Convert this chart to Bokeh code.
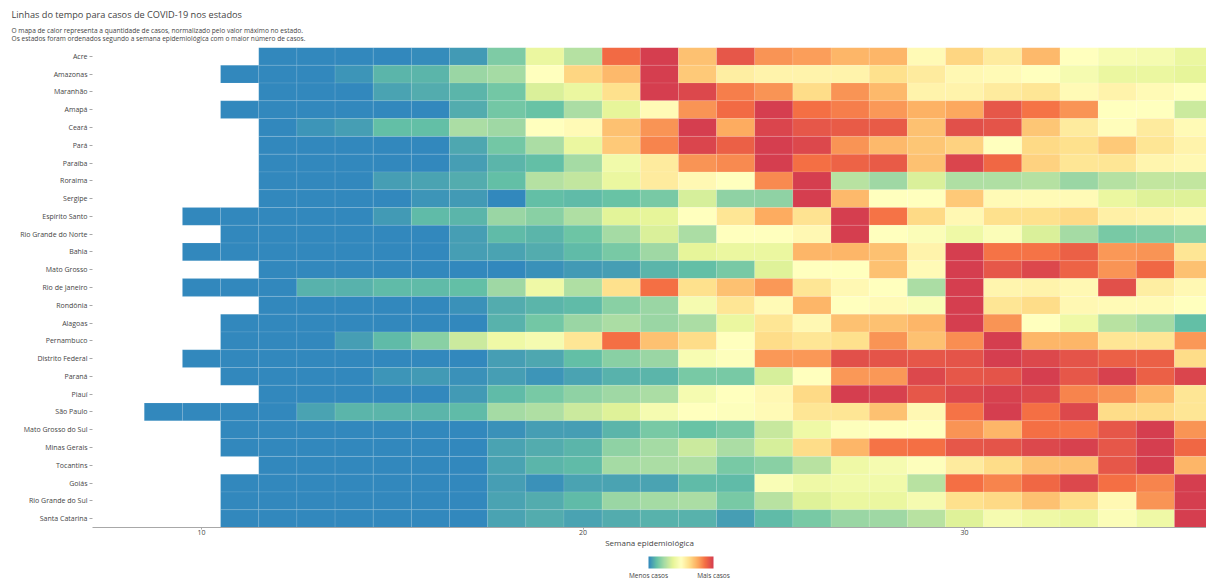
import numpy as np
import pandas as pd
from bokeh.plotting import figure
from bokeh.models import (ColumnDataSource, LinearColorMapper, ColorBar, FixedTicker,
                          Range1d, FactorRange, Title)
from bokeh.palettes import Spectral9
from bokeh.embed import file_html
from bokeh.resources import INLINE

# ---- texts ----
title_text = "Linhas do tempo para casos de COVID-19 nos estados"
subtitle_1 = "O mapa de calor representa a quantidade de casos, normalizado pelo valor máximo no estado."
subtitle_2 = "Os estados foram ordenados segundo a semana epidemiológica com o maior número de casos."
x_label = "Semana epidemiológica"
legend_low = "Menos casos"
legend_high = "Mais casos"
x_ticks = [10, 20, 30]

# ---- data: weekly cases normalized by each state's maximum ----
states = [
    "Acre", "Amazonas", "Maranhão", "Amapá", "Ceará", "Pará", "Paraíba", "Roraima",
    "Sergipe", "Espírito Santo", "Rio Grande do Norte", "Bahia", "Mato Grosso",
    "Rio de Janeiro", "Rondônia", "Alagoas", "Pernambuco", "Distrito Federal",
    "Paraná", "Piauí", "São Paulo", "Mato Grosso do Sul", "Minas Gerais",
    "Tocantins", "Goiás", "Rio Grande do Sul", "Santa Catarina",
]
first_week = [12, 11, 12, 11, 12, 12, 12, 12, 12, 10, 11, 10, 12, 10, 12, 11, 11, 10,
              11, 12, 9, 11, 11, 12, 11, 11, 11]

acre = [0, 0, 0, 0, 0.01, 0.04, 0.17, 0.40, 0.27, 0.88, 1.0, 0.70, 0.93, 0.80, 0.78,
        0.73, 0.73, 0.52, 0.65, 0.58, 0.72, 0.50, 0.46, 0.45, 0.40]
amazonas = [0, 0, 0, 0.03, 0.10, 0.10, 0.22, 0.24, 0.50, 0.65, 0.72, 1.0, 0.68, 0.57,
            0.55, 0.55, 0.55, 0.62, 0.58, 0.53, 0.52, 0.50, 0.45, 0.40, 0.40, 0.38]
maranhao = [0, 0, 0, 0.06, 0.08, 0.10, 0.15, 0.35, 0.40, 0.62, 1.0, 0.97, 0.84, 0.80,
            0.63, 0.80, 0.72, 0.55, 0.55, 0.58, 0.60, 0.52, 0.55, 0.52, 0.50]
amapa = [0, 0, 0, 0, 0, 0, 0.08, 0.15, 0.13, 0.25, 0.38, 0.52, 0.80, 0.88, 1.0, 0.87,
         0.84, 0.79, 0.74, 0.76, 0.93, 0.86, 0.80, 0.50, 0.50, 0.32]
ceara = [0, 0.03, 0.05, 0.12, 0.12, 0.25, 0.23, 0.50, 0.52, 0.70, 0.80, 1.0, 0.75,
         0.98, 0.93, 0.92, 0.92, 0.70, 0.95, 0.94, 0.69, 0.58, 0.51, 0.58, 0.52]
para = [0, 0, 0, 0, 0, 0.07, 0.15, 0.25, 0.40, 0.68, 0.83, 0.98, 0.91, 1.0, 0.97,
        0.80, 0.72, 0.69, 0.66, 0.50, 0.64, 0.62, 0.68, 0.60, 0.55]
paraiba = [0, 0, 0, 0, 0, 0.05, 0.10, 0.12, 0.24, 0.43, 0.58, 0.80, 0.82, 1.0, 0.87,
           0.90, 0.92, 0.70, 0.98, 0.89, 0.66, 0.60, 0.60, 0.54, 0.53]
roraima = [0, 0, 0, 0.05, 0.06, 0.08, 0.12, 0.27, 0.30, 0.40, 0.58, 0.53, 0.50, 0.82,
           1.0, 0.28, 0.23, 0.35, 0.26, 0.26, 0.27, 0.22, 0.27, 0.30, 0.30]
sergipe = [0, 0, 0, 0, 0.03, 0.04, 0, 0.12, 0.11, 0.13, 0.16, 0.34, 0.20, 0.20, 1.0,
           0.72, 0.50, 0.50, 0.68, 0.52, 0.52, 0.52, 0.40, 0.36, 0.36]
espirito_santo = [0, 0, 0, 0, 0, 0.04, 0.11, 0.10, 0.22, 0.19, 0.26, 0.37, 0.38, 0.50,
                  0.60, 0.75, 0.61, 1.0, 0.86, 0.64, 0.53, 0.62, 0.62, 0.64, 0.56,
                  0.55, 0.53]
rio_grande_do_norte = [0, 0, 0, 0, 0, 0, 0.05, 0.11, 0.10, 0.14, 0.24, 0.35, 0.25,
                       0.50, 0.50, 0.53, 1.0, 0.50, 0.48, 0.42, 0.48, 0.35, 0.24,
                       0.16, 0.17, 0.19]
bahia = [0, 0, 0, 0, 0, 0, 0, 0.05, 0.06, 0.08, 0.11, 0.16, 0.23, 0.38, 0.40, 0.40,
         0.73, 0.73, 0.70, 0.55, 1.0, 0.86, 0.86, 0.91, 0.79, 0.80, 0.60]
mato_grosso = [0, 0, 0, 0, 0, 0, 0, 0.02, 0.04, 0.05, 0.10, 0.12, 0.16, 0.36, 0.50,
               0.50, 0.70, 0.52, 1.0, 0.93, 0.97, 0.90, 0.80, 0.89, 0.70]
rio_de_janeiro = [0, 0, 0, 0.09, 0.09, 0.11, 0.11, 0.12, 0.23, 0.42, 0.26, 0.62, 0.87,
                  0.62, 0.70, 0.79, 0.60, 0.53, 0.50, 0.25, 1.0, 0.54, 0.55, 0.53,
                  0.95, 0.57, 0.53]
rondonia = [0, 0, 0, 0, 0, 0.02, 0.08, 0.10, 0.11, 0.19, 0.22, 0.45, 0.60, 0.52, 0.73,
            0.50, 0.52, 0.47, 1.0, 0.60, 0.63, 0.53, 0.52, 0.52, 0.50]
alagoas = [0, 0, 0, 0, 0, 0, 0, 0.09, 0.15, 0.22, 0.25, 0.22, 0.25, 0.40, 0.60, 0.53,
           0.70, 0.70, 0.73, 1.0, 0.80, 0.50, 0.42, 0.28, 0.24, 0.12]
pernambuco = [0, 0, 0, 0.05, 0.11, 0.19, 0.32, 0.42, 0.45, 0.60, 0.87, 0.70, 0.63,
              0.50, 0.63, 0.60, 0.62, 0.80, 0.70, 0.81, 1.0, 0.73, 0.73, 0.60, 0.60,
              0.79]
distrito_federal = [0, 0, 0, 0, 0, 0, 0, 0, 0.05, 0.07, 0.12, 0.19, 0.22, 0.46, 0.49,
                    0.79, 0.79, 0.95, 0.94, 0.93, 0.94, 1.0, 0.97, 0.94, 0.91, 0.91,
                    0.63]
parana = [0, 0, 0, 0, 0.03, 0.04, 0.02, 0.05, 0.03, 0.06, 0.09, 0.10, 0.16, 0.16, 0.34,
          0.50, 0.79, 0.79, 0.97, 0.93, 0.94, 1.0, 0.93, 0.99, 0.91, 0.98]
piaui = [0, 0, 0, 0, 0, 0.04, 0.11, 0.16, 0.20, 0.23, 0.25, 0.45, 0.50, 0.53, 0.64,
         1.0, 0.99, 0.93, 0.97, 0.99, 0.97, 0.83, 0.80, 0.73, 0.60]
sao_paulo = [0, 0, 0, 0, 0.06, 0.10, 0.10, 0.10, 0.11, 0.24, 0.26, 0.32, 0.36, 0.45,
             0.50, 0.49, 0.52, 0.60, 0.60, 0.70, 0.53, 0.86, 1.0, 0.87, 0.97, 0.63,
             0.63, 0.60]
mato_grosso_do_sul = [0, 0, 0, 0, 0, 0, 0, 0.02, 0.05, 0.05, 0.10, 0.16, 0.13, 0.16,
                      0.31, 0.42, 0.49, 0.50, 0.50, 0.80, 0.73, 0.87, 0.86, 0.93, 1.0,
                      0.80]
minas_gerais = [0, 0, 0, 0, 0, 0, 0, 0.06, 0.08, 0.10, 0.20, 0.24, 0.32, 0.25, 0.34,
                0.63, 0.73, 0.86, 0.87, 0.93, 0.94, 0.97, 0.99, 0.93, 1.0, 0.89]
tocantins = [0, 0, 0, 0, 0, 0, 0.06, 0.10, 0.11, 0.24, 0.25, 0.26, 0.16, 0.19, 0.28,
             0.42, 0.45, 0.49, 0.58, 0.63, 0.70, 0.70, 0.93, 1.0, 0.73]
goias = [0, 0, 0, 0, 0, 0, 0, 0.05, 0.02, 0.06, 0.06, 0.06, 0.11, 0.11, 0.47, 0.42,
         0.43, 0.43, 0.28, 0.87, 0.83, 0.89, 0.97, 0.87, 0.83, 1.0]
rio_grande_do_sul = [0, 0, 0, 0, 0, 0, 0, 0.06, 0.08, 0.11, 0.22, 0.24, 0.25, 0.16,
                     0.28, 0.36, 0.40, 0.40, 0.45, 0.62, 0.64, 0.70, 0.63, 0.53, 0.80,
                     1.0]
santa_catarina = [0, 0, 0, 0, 0, 0, 0, 0.06, 0.08, 0.06, 0.08, 0.09, 0.09, 0.05, 0.11,
                  0.16, 0.22, 0.23, 0.28, 0.36, 0.45, 0.42, 0.40, 0.48, 0.42, 1.0]

series = [acre, amazonas, maranhao, amapa, ceara, para, paraiba, roraima, sergipe,
          espirito_santo, rio_grande_do_norte, bahia, mato_grosso, rio_de_janeiro,
          rondonia, alagoas, pernambuco, distrito_federal, parana, piaui, sao_paulo,
          mato_grosso_do_sul, minas_gerais, tocantins, goias, rio_grande_do_sul,
          santa_catarina]

# long table: one row per (state, week)
records = []
for state, start, vals in zip(states, first_week, series):
    for k, v in enumerate(vals):
        records.append((state, start + k, v))
df = pd.DataFrame(records, columns=["state", "week", "value"])
source = ColumnDataSource(df)


# continuous Spectral scale, blue (few cases) to red (many cases)
def smooth_palette(colors, n):
    rgb = np.array([[int(c[i:i + 2], 16) for i in (1, 3, 5)] for c in colors], float)
    pos = np.linspace(0, 1, len(colors))
    t = np.linspace(0, 1, n)
    out = np.stack([np.interp(t, pos, rgb[:, j]) for j in range(3)], axis=1)
    return ["#%02x%02x%02x" % tuple(int(round(c)) for c in row) for row in out]


palette = smooth_palette(list(Spectral9), 256)
mapper = LinearColorMapper(palette=palette, low=0, high=1)

FONT = "Open Sans"
TXT = "#444444"
AX = "#a8a8a8"

p = figure(
    width=1206, height=579, title=None,
    x_range=Range1d(7.143, 36.34),
    y_range=FactorRange(factors=list(reversed(states))),
    output_backend="svg", toolbar_location=None,
    min_border_left=92, min_border_right=0, min_border_top=47, min_border_bottom=52,
)

p.rect(x="week", y="state", width=1, height=1, source=source,
       fill_color={"field": "value", "transform": mapper},
       line_color="white", line_alpha=0.12, line_width=0.8)

p.grid.grid_line_color = None
p.outline_line_color = None

p.xaxis.ticker = FixedTicker(ticks=x_ticks)
p.xaxis.axis_line_color = AX
p.xaxis.major_tick_line_color = AX
p.xaxis.minor_tick_line_color = None
p.xaxis.major_tick_out = 2
p.xaxis.major_tick_in = 0
p.xaxis.major_label_standoff = 0
p.xaxis.major_label_text_font = FONT
p.xaxis.major_label_text_font_size = "7px"
p.xaxis.major_label_text_color = TXT

p.yaxis.axis_line_color = None
p.yaxis.major_tick_line_color = AX
p.yaxis.minor_tick_line_color = None
p.yaxis.major_tick_out = 3
p.yaxis.major_tick_in = 0
p.yaxis.major_label_standoff = 2
p.yaxis.major_label_text_font = FONT
p.yaxis.major_label_text_font_size = "7px"
p.yaxis.major_label_text_color = TXT

# title block above the heatmap: two-line subtitle next to the frame, title above it
p.add_layout(Title(text=subtitle_1 + "\n" + subtitle_2, align="left", offset=-81,
                   standoff=9, text_font=FONT, text_font_size="6.6px",
                   text_line_height=0.92, text_color=TXT,
                   text_font_style="normal"), "above")
p.add_layout(Title(text=title_text, align="left", offset=-81, standoff=-2,
                   text_font=FONT, text_font_size="9.2px", text_color=TXT,
                   text_font_style="normal"), "above")

# x-axis name, centred a little right of the frame centre
p.add_layout(Title(text=x_label, align="center", offset=30, standoff=-6,
                   text_font=FONT, text_font_size="8px", text_color=TXT,
                   text_font_style="normal"), "below")

color_bar = ColorBar(color_mapper=mapper, orientation="horizontal",
                     location=(556, -55), width=65, height=12, padding=0,
                     ticker=FixedTicker(ticks=[0, 1]),
                     major_label_overrides={0: legend_low, 1: legend_high},
                     major_label_text_font=FONT, major_label_text_font_size="6.5px",
                     major_label_text_color=TXT, label_standoff=2,
                     major_tick_line_color=None, minor_tick_line_color=None,
                     bar_line_color=None, border_line_color=None,
                     background_fill_alpha=0)
p.add_layout(color_bar)

open("out.html", "w").write(file_html(p, INLINE))
